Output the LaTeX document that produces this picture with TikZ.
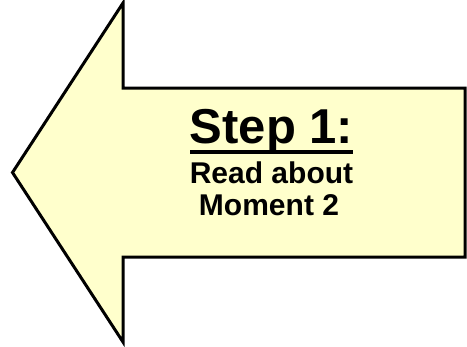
\documentclass[tikz,border=0pt]{standalone}
\usepackage{fontspec}
\setmainfont{Liberation Sans}
\definecolor{arrowfill}{HTML}{FFFFCC}
\begin{document}
\begin{tikzpicture}[x=1bp,y=-1bp,
  arrowshape/.style={draw=black,fill=arrowfill,line width=3bp,line join=miter},
  steptext/.style={anchor=base,inner sep=0pt,font=\bfseries}]
\useasboundingbox (0,0) rectangle (467,346);
\draw[arrowshape] (12.5,172.5) -- (123,3) -- (123,88) -- (465,88) -- (465,257) -- (123,257) -- (123,342) -- cycle;
\node[steptext,font=\bfseries\fontsize{49bp}{49bp}\selectfont] (title) at (271.5,143) {Step 1:};
\draw[line width=4bp] (190,152) -- (353,152);
\node[steptext,font=\bfseries\fontsize{30bp}{30bp}\selectfont] (line1) at (271.5,183) {Read about};
\node[steptext,font=\bfseries\fontsize{30bp}{30bp}\selectfont] (line2) at (269,215) {Moment 2};
\end{tikzpicture}
\end{document}
